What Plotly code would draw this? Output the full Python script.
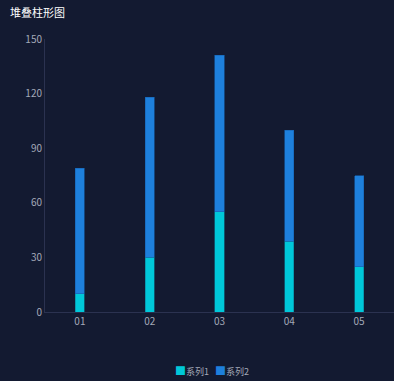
import plotly.graph_objects as go

categories = ["01", "02", "03", "04", "05"]
series1 = [10, 30, 55, 39, 25]
series2 = [69, 88, 86, 61, 50]
names = ["系列1", "系列2"]
y_ticks = [0, 30, 60, 90, 120, 150]

BG = "#131a31"
AXIS = "#2b3250"
TICK = "#a3a9b8"
FONT = "Noto Sans CJK SC, Noto Sans, sans-serif"
COLORS = ["#00c8d9", "#1e80dc"]
EDGES = ["#0a7f96", "#1663b0"]

fig = go.Figure()
for vals, name, c, e in zip([series1, series2], names, COLORS, EDGES):
    fig.add_trace(go.Bar(x=categories, y=vals, name=name, width=0.13, showlegend=False,
                         marker=dict(color=c, line=dict(color=e, width=0.6))))
# legend entries: coloured square glyph + name, symbol itself hidden
legend_ids = ["legend", "legend2"]
for name, c, lid in zip(names, COLORS, legend_ids):
    label = f"<span style='color:{c};font-size:11px'>■</span>{name}"
    fig.add_trace(go.Scatter(x=[None], y=[None], mode="markers", name=label, legend=lid,
                             marker=dict(symbol="square", size=1, color="rgba(0,0,0,0)")))

legend_common = dict(orientation="h", xref="container", yref="container",
                     xanchor="left", yanchor="middle", y=10/381,
                     font=dict(size=9, color=TICK, family=FONT),
                     bgcolor="rgba(0,0,0,0)", itemwidth=30)

fig.update_layout(
    width=394, height=381,
    barmode="stack",
    paper_bgcolor=BG, plot_bgcolor=BG,
    margin=dict(l=45, r=0, t=39, b=69),
    font=dict(family=FONT, color=TICK, size=10),
    title=dict(text="堆叠柱形图", font=dict(family=FONT, color="#ffffff", size=11),
               xref="container", yref="container", x=10/394, xanchor="left",
               y=1-13/381, yanchor="middle"),
    showlegend=True,
    legend=dict(legend_common, x=(175-40)/394),
    legend2=dict(legend_common, x=(215-40)/394),
    xaxis=dict(showgrid=False, showline=True, linecolor=AXIS, linewidth=1,
               ticks="", tickfont=dict(size=10, color=TICK), zeroline=False),
    yaxis=dict(range=[0, 150], tickvals=y_ticks, showgrid=False, showline=True,
               linecolor=AXIS, linewidth=1, ticks="", zeroline=False,
               tickfont=dict(size=10, color=TICK)),
)

fig.write_html("out.html", config={"displayModeBar": False},
               post_script="document.body.style.margin='0';document.body.style.background='#131a31';")
